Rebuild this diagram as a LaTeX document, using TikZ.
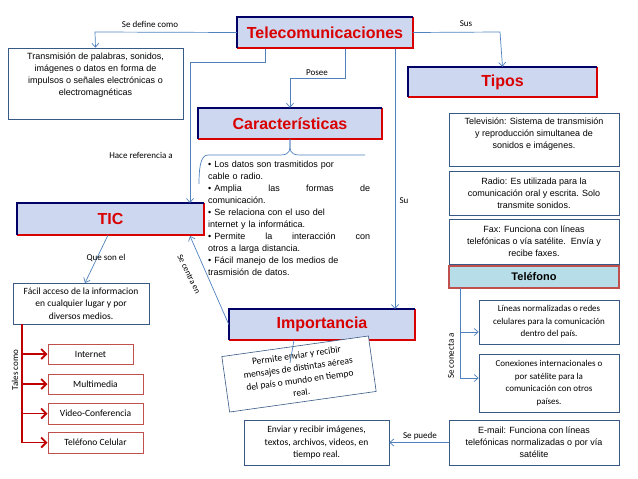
\documentclass[tikz,border=0pt]{standalone}
\usepackage{fontspec}
\setmainfont{Carlito}
\newfontfamily\arialf{Liberation Sans}
\usetikzlibrary{arrows.meta,decorations.pathreplacing,positioning}
\definecolor{ln}{RGB}{79,129,189}
\definecolor{dred}{RGB}{192,0,0}
\definecolor{bxr}{RGB}{192,80,77}
\definecolor{fancyfill}{RGB}{205,215,240}
\definecolor{telfill}{RGB}{183,222,232}
\newcommand{\fborder}[1]{%
  \draw[line width=2.5pt,red!85!black] (#1.north east)--(#1.south east)--(#1.south west);
  \draw[line width=2.5pt,blue!40!black] (#1.south west)--(#1.north west)--(#1.north east);}
\tikzset{
 fancy/.style={fill=fancyfill,inner sep=0pt,font=\arialf\bfseries\fontsize{16}{18}\selectfont,text=red!85!black},
 box/.style={draw=ln!70!black,line width=0.6pt,fill=white,align=center,inner sep=1pt,font=\fontsize{9.5}{12.5}\selectfont},
 abox/.style={box,font=\arialf\fontsize{9}{12}\selectfont},
 atext/.style={align=center,inner sep=0pt,font=\arialf\fontsize{9}{12}\selectfont},
 rbox/.style={draw=bxr,line width=1pt,align=center,font=\fontsize{9.5}{12}\selectfont},
 con/.style={draw=ln,line width=0.7pt,-{Straight Barb[length=4pt,width=7pt]}},
 lab/.style={font=\fontsize{9}{11}\selectfont,inner sep=1pt},
 rar/.style={draw=dred,line width=1.8pt,-{Straight Barb[length=5pt,width=10pt,line width=1.8pt]}}
}
\begin{document}
\hyphenpenalty=10000 \exhyphenpenalty=10000
\begin{tikzpicture}[x=1pt,y=-1pt]
\useasboundingbox (0,0) rectangle (638,479);
% fancy nodes
\node[fancy,minimum width=176,minimum height=31] (tel) at (325,32.5) {Telecomunicaciones};
\node[fancy,minimum width=189,minimum height=30] (tip) at (502.5,82) {Tipos};
\node[fancy,minimum width=184,minimum height=31] (car) at (290,123.5) {Características};
\node[fancy,minimum width=187,minimum height=32] (tic) at (110.5,219) {TIC};
\node[fancy,minimum width=186,minimum height=31] (imp) at (322,324.5) {Importancia};
\fborder{tel}\fborder{tip}\fborder{car}\fborder{tic}\fborder{imp}
% boxes
\node[box,minimum width=175,minimum height=71] (def) at (95.5,83.5) {};
\node[atext,anchor=north] (deft) at ([yshift=-5pt]def.north) {Transmisión de palabras, sonidos,\\ imágenes o datos en forma de\\ impulsos o señales electrónicas o\\ electromagnéticas};
\node[box,minimum width=170,minimum height=53] (tv) at (534,139.5) {};
\node[atext,anchor=north] (tvt) at ([yshift=-5pt]tv.north) {Televisión: Sistema de transmisión\\ y reproducción simultanea de\\ sonidos e imágenes.};
\node[abox,minimum width=170,minimum height=44] (rad) at (534,193) {Radio: Es utilizada para la\\ comunicación oral y escrita. Solo\\ transmite sonidos.};
\node[abox,minimum width=170,minimum height=45] (fax) at (534,241.5) {Fax: Funciona con líneas\\ telefónicas o vía satélite.\ \ Envía y\\ recibe faxes.};
\node[draw=bxr,line width=1.2pt,fill=telfill,minimum width=170,minimum height=22,font=\arialf\bfseries\fontsize{11}{12}\selectfont] (tfn) at (534,277) {Teléfono};
\node[box,minimum width=140,minimum height=44,font=\fontsize{9}{12.5}\selectfont] (lin) at (549,322) {Líneas normalizadas o redes\\ celulares para la comunicación\\ dentro del país.};
\node[box,minimum width=140,minimum height=58,font=\fontsize{9}{12.5}\selectfont] (cnx) at (549,383) {Conexiones internacionales o\\ por satélite para la\\ comunicación con otros\\ países.};
\node[abox,minimum width=170,minimum height=45] (mail) at (534,442.5) {E-mail: Funciona con líneas\\ telefónicas normalizadas o por vía\\ satélite};
\node[box,minimum width=145,minimum height=45] (env) at (316.5,442.5) {Enviar y recibir imágenes,\\ textos, archivos, videos, en\\ tiempo real.};
\node[box,rotate=8,minimum width=148,minimum height=56] (per) at (299,374) {Permite enviar y recibir\\ mensajes de distintas aéreas\\ del país o mundo en tiempo\\ real.};
\node[box,minimum width=136,minimum height=41] (fac) at (81,303.5) {Fácil acceso de la informacion\\ en cualquier lugar y por\\ diversos medios.};
\node[rbox,minimum width=85,minimum height=20] (int) at (90.5,354) {Internet};
\node[rbox,minimum width=95,minimum height=20] (mul) at (95.5,384) {Multimedia};
\node[rbox,minimum width=95,minimum height=21] (vid) at (95.5,413.5) {Video-Conferencia};
\node[rbox,minimum width=95,minimum height=21] (cel) at (95.5,442.5) {Teléfono Celular};
% bullet list
\node[font=\arialf\fontsize{9}{12}\selectfont,text width=162,align=left,anchor=north west,inner sep=0pt] (lst) at (208,161) {%
\textbullet\ Los datos son trasmitidos por\\ cable o radio.\\
\textbullet\ Amplia\hfill las\hfill formas\hfill de\\ comunicación.\\
\textbullet\ Se relaciona con el uso del\\ internet y la informática.\\
\textbullet\ Permite\hfill la\hfill interacción\hfill con\\ otros a larga distancia.\\
\textbullet\ Fácil manejo de los medios de\\ trasmisión de datos.};
\draw[ln,line width=0.7pt] (car.south) .. controls (290,150) and (291,155) .. (280,155) -- (208,155) .. controls (200,155) and (199,170) .. (199,184);
\draw[ln,line width=0.7pt] (car.south) .. controls (290,150) and (289,155) .. (300,155) -- (365,155);
% connectors
\draw[con] (tel.west) -- (95,32) -- (def.north);
\node[lab] at (150,24) {Se define como};
\draw[con] (tel.east) -- (500,32) -- (tip.north);
\node[lab] at (466,24) {Sus};
\draw[con] (265,48.5) -- (265,62) -- (190,62) -- (190,203);
\node[lab] at (141,155) {Hace referencia a};
\draw[con] (345,48.5) -- (345,78) -- (290,78) -- (car.north);
\node[lab] at (317,73) {Posee};
\draw[con] (395,48.5) -- (395,309);
\node[lab] at (404,201) {Su};
\draw[con] (108,235) -- (85,283);
\node[lab] at (106,258) {Que son el};
\draw[con] (imp.west) -- (190,236);
\node[lab,rotate=-64,font=\fontsize{8.5}{10}\selectfont] at (189,274) {Se centra en};
\draw[ln,line width=0.7pt] (294,340) -- (290,363);
\draw[con] (mail.west) -- (env.east);
\node[lab] at (420,436) {Se puede};
\draw[ln,line width=0.7pt] (460,288) -- (460,378);
\draw[con] (460,332) -- (lin.west|-0,332);
\draw[con] (460,378) -- (cnx.west|-0,378);
\node[lab,rotate=90] at (451,356) {Se conecta a};
% red tree
\draw[dred,line width=1.8pt] (22,324) -- (22,443);
\draw[rar] (21.1,354) -- (int.west);
\draw[rar] (21.1,384) -- (mul.west);
\draw[rar] (21.1,413.5) -- (vid.west);
\draw[rar] (21.1,442.5) -- (cel.west);
\node[lab,rotate=90] at (15,370) {Tales como};
\end{tikzpicture}
\end{document}
